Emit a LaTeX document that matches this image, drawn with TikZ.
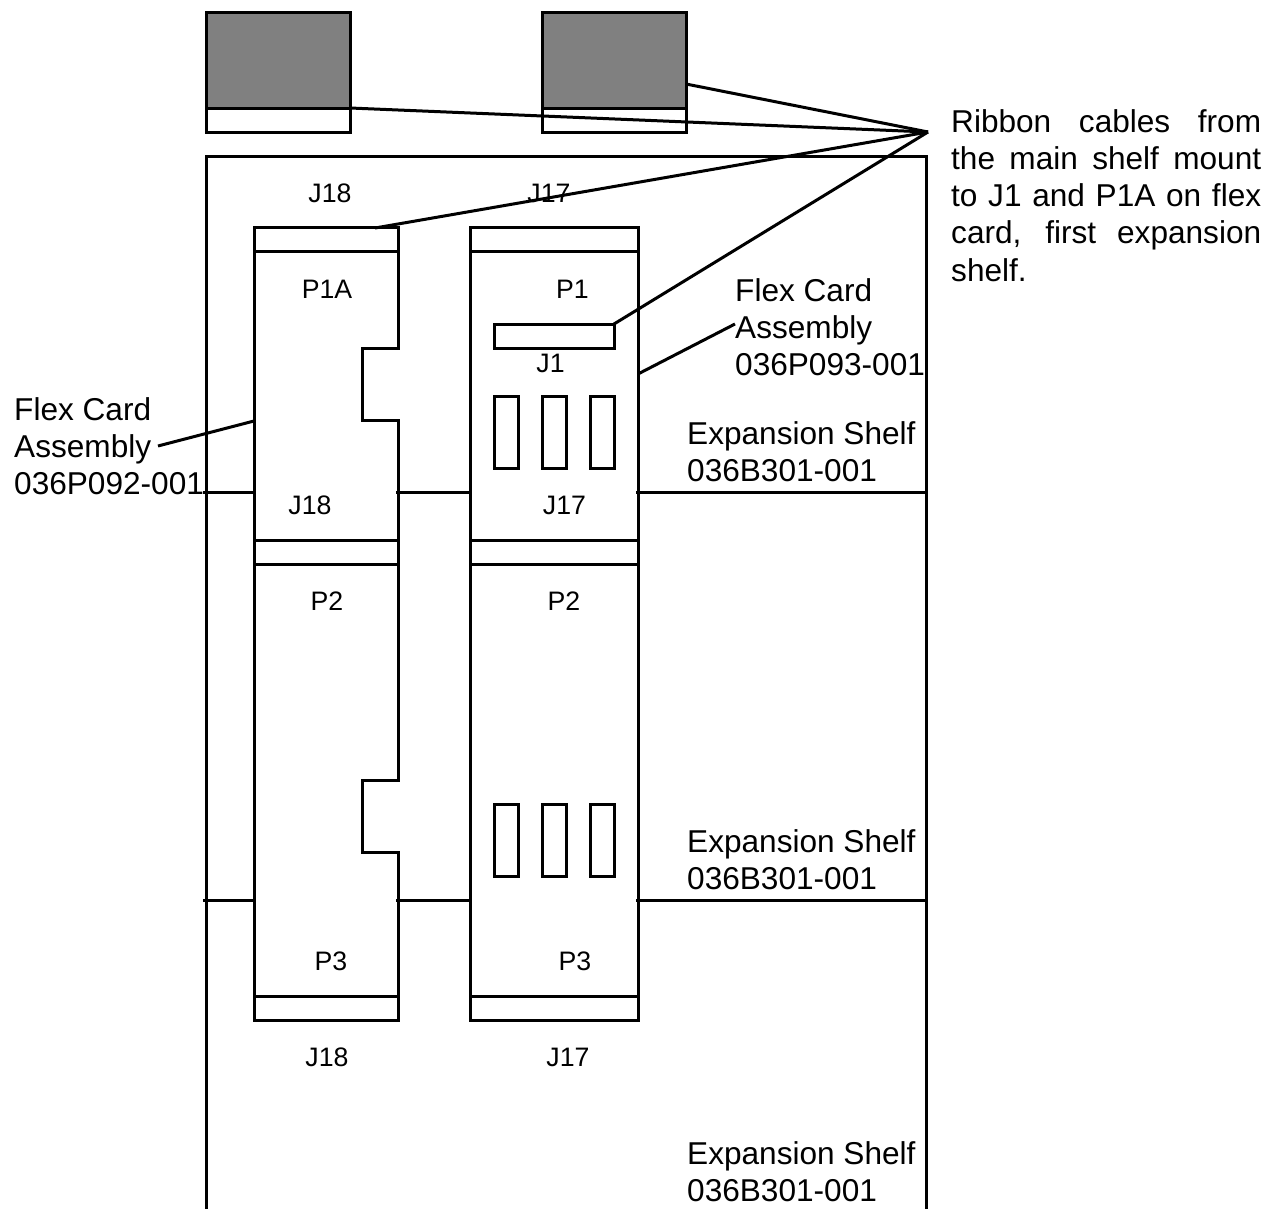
\documentclass[tikz,border=0pt]{standalone}
\usepackage{fontspec}
\setmainfont{Liberation Sans}
\definecolor{mountGray}{RGB}{128,128,128}
\tikzset{
  wire/.style={line width=3pt, draw=black},
  boxpart/.style={wire, rectangle, anchor=north west, inner sep=0pt, outer sep=0pt},
  grayblock/.style={boxpart, fill=mountGray},
  smalltext/.style={anchor=base, inner sep=0pt, font=\fontsize{26.7}{30}\selectfont},
  bigtext/.style={anchor=north west, inner sep=0pt, align=left, font=\fontsize{31.6}{37.3}\selectfont},
}
\begin{document}
\begin{tikzpicture}[x=1pt, y=-1pt]
  \useasboundingbox (0,0) rectangle (1275,1209);
  % main shelf mounts
  \node[grayblock, minimum width=144pt, minimum height=96pt] (mountA) at (206,12.5) {};
  \node[boxpart, minimum width=144pt, minimum height=24pt] (mountAtail) at (206,108.5) {};
  \node[grayblock, minimum width=144pt, minimum height=96pt] (mountB) at (542,12.5) {};
  \node[boxpart, minimum width=144pt, minimum height=24pt] (mountBtail) at (542,108.5) {};
  % expansion shelf
  \draw[wire] (206,1209) -- (206,156.5) -- (926,156.5) -- (926,1209);
  % left flex card
  \node[boxpart, minimum width=144pt, minimum height=24pt] (leftTop) at (254,228) {};
  \node[boxpart, minimum width=144pt, minimum height=24pt] (leftMid) at (254,540) {};
  \node[boxpart, minimum width=144pt, minimum height=24pt] (leftEnd) at (254,996) {};
  \draw[wire] (254,252) -- (254,540);
  \draw[wire] (398,252) -- (398,348) -- (362,348) -- (362,420) -- (398,420) -- (398,540);
  \draw[wire] (254,564) -- (254,996);
  \draw[wire] (398,564) -- (398,780) -- (362,780) -- (362,852) -- (398,852) -- (398,996);
  % right flex card
  \node[boxpart, minimum width=168pt, minimum height=24pt] (rightTop) at (470,228) {};
  \node[boxpart, minimum width=168pt, minimum height=288pt] (rightUpper) at (470,252) {};
  \node[boxpart, minimum width=168pt, minimum height=24pt] (rightMid) at (470,540) {};
  \node[boxpart, minimum width=168pt, minimum height=432pt] (rightLower) at (470,564) {};
  \node[boxpart, minimum width=168pt, minimum height=24pt] (rightEnd) at (470,996) {};
  \node[boxpart, minimum width=120pt, minimum height=24pt] (connJ1) at (494,324) {};
  \foreach \sx/\sname in {494/a,542/b,590/c} {
    \node[boxpart, minimum width=24pt, minimum height=72pt] (slotUp\sname) at (\sx,396) {};
    \node[boxpart, minimum width=24pt, minimum height=72pt] (slotLow\sname) at (\sx,804) {};
  }
  % shelf dividers
  \coordinate (divUpL) at (203,492);
  \coordinate (divUpA) at (254,492);
  \coordinate (divUpB) at (396,492);
  \coordinate (divUpC) at (470,492);
  \coordinate (divUpD) at (636,492);
  \coordinate (divUpE) at (926,492);
  \coordinate (divLowL) at (203,900);
  \coordinate (divLowA) at (254,900);
  \coordinate (divLowB) at (396,900);
  \coordinate (divLowC) at (470,900);
  \coordinate (divLowD) at (636,900);
  \coordinate (divLowE) at (926,900);
  \draw[wire] (divUpL) -- (divUpA);
  \draw[wire] (divUpB) -- (divUpC);
  \draw[wire] (divUpD) -- (divUpE);
  \draw[wire] (divLowL) -- (divLowA);
  \draw[wire] (divLowB) -- (divLowC);
  \draw[wire] (divLowD) -- (divLowE);
  % small labels
  \node[smalltext] (jTopA) at (330,202.5) {J18};
  \node[smalltext] (jTopB) at (549,202.5) {J17};
  \node[smalltext] (pOneA) at (327,298.5) {P1A};
  \node[smalltext] (pOne) at (572.5,298.5) {P1};
  \node[smalltext] (jOne) at (550.5,372.5) {J1};
  \node[smalltext] (jMidA) at (310,514.5) {J18};
  \node[smalltext] (jMidB) at (564.5,514.5) {J17};
  \node[smalltext] (pTwoA) at (327,610.5) {P2};
  \node[smalltext] (pTwoB) at (564,610.5) {P2};
  \node[smalltext] (pThreeA) at (331,970.5) {P3};
  \node[smalltext] (pThreeB) at (575,970.5) {P3};
  \node[smalltext] (jEndA) at (327,1066.5) {J18};
  \node[smalltext] (jEndB) at (568,1066.5) {J17};
  % big labels
  \node[bigtext] (flexLeft) at (14,397) {Flex Card\\Assembly\\036P092-001};
  \node[bigtext] (flexRight) at (735,278) {Flex Card\\Assembly\\036P093-001};
  \node[bigtext] (shelfOne) at (687,421) {Expansion Shelf\\036B301-001};
  \node[bigtext] (shelfTwo) at (687,829) {Expansion Shelf\\036B301-001};
  \node[bigtext] (shelfThree) at (687,1141) {Expansion Shelf\\036B301-001};
  \node[bigtext] (ribbonNote) at (951,109) {\makebox[310pt][s]{Ribbon cables from}\\\makebox[310pt][s]{the main shelf mount}\\\makebox[310pt][s]{to J1 and P1A on flex}\\\makebox[310pt][s]{card, first expansion}\\shelf.};
  % leader lines
  \coordinate (ribbonApex) at (928,132);
  \coordinate (leadMountA) at (350,108);
  \coordinate (leadMountB) at (686,84);
  \coordinate (leadPoneA) at (375,228);
  \coordinate (leadJone) at (614,324);
  \coordinate (leadFlexR) at (735,324);
  \coordinate (leadCardR) at (638,374);
  \coordinate (leadFlexL) at (158,446);
  \coordinate (leadCardL) at (254,421);
  \draw[wire] (leadMountA) -- (ribbonApex);
  \draw[wire] (leadMountB) -- (ribbonApex);
  \draw[wire] (leadPoneA) -- (ribbonApex);
  \draw[wire] (leadJone) -- (ribbonApex);
  \draw[wire] (leadCardR) -- (leadFlexR);
  \draw[wire] (leadFlexL) -- (leadCardL);
\end{tikzpicture}
\end{document}
